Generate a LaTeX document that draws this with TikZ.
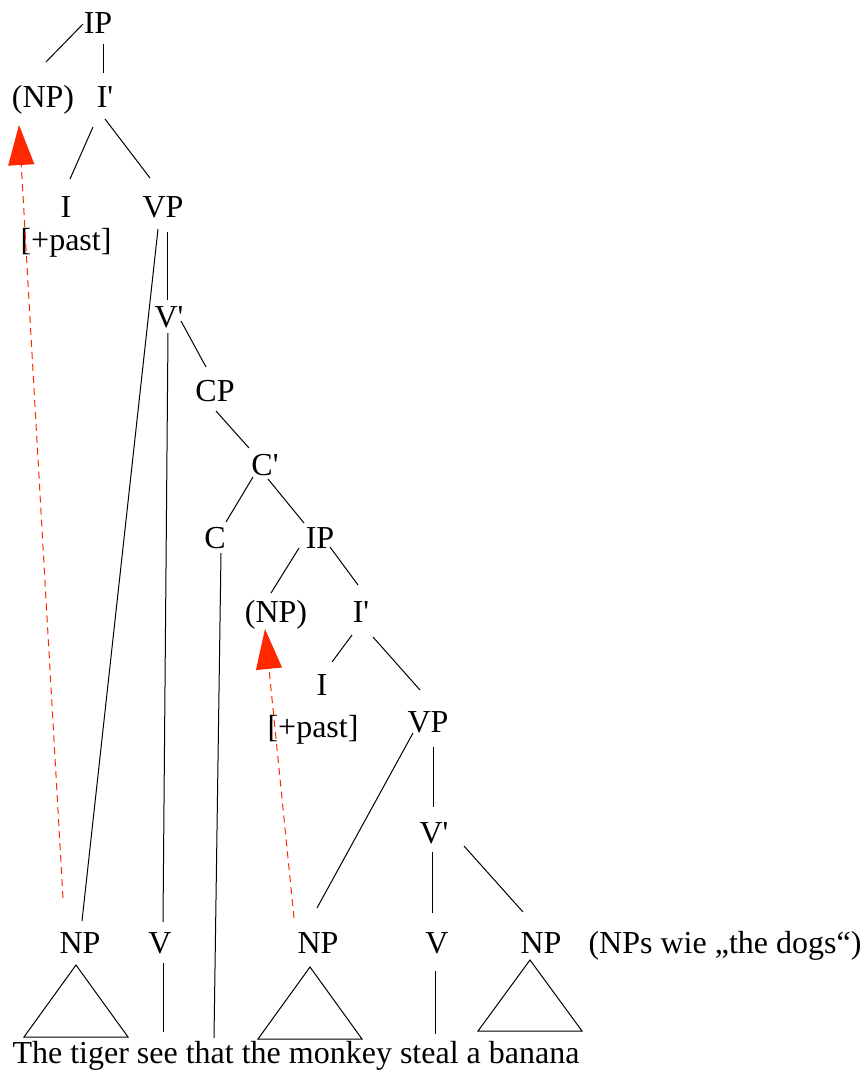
\documentclass[tikz,border=0pt]{standalone}
\usepackage{fontspec}
\setmainfont{Liberation Serif}
\usetikzlibrary{calc,arrows.meta}
\definecolor{movered}{RGB}{255,40,0}
\begin{document}
\begin{tikzpicture}[x=1pt,y=-1pt,
  lbl/.style={anchor=base,inner sep=0pt,font=\fontsize{32}{38}\selectfont},
  br/.style={line width=1pt,black},
  tri/.style={line width=1pt,black,line join=miter},
  movearrow/.style={movered,line width=1pt,dash pattern=on 7pt off 5pt,
    -{Triangle[length=40pt,width=26pt,fill=movered]}}]
\useasboundingbox (0,0) rectangle (867,1071);

% upper tree
\node[lbl] (IPa)   at (98,33)   {IP};
\node[lbl] (NPa)   at (43,107)  {(NP)};
\node[lbl] (Ibara) at (105,107) {I\textquotesingle};
\node[lbl] (Ia)    at (66,217)  {I};
\node[lbl] (pasta) at (66,250)  {[+past]};
\node[lbl] (VPa)   at (163,217) {VP};
\node[lbl] (Vbara) at (169,327) {V\textquotesingle};
\node[lbl] (CP)    at (215,401) {CP};
\node[lbl] (Cbar)  at (265,475) {C\textquotesingle};
\node[lbl] (C)     at (215,548) {C};
\node[lbl] (IPb)   at (320,548) {IP};
\node[lbl] (NPb)   at (276,622) {(NP)};
\node[lbl] (Ibarb) at (361,622) {I\textquotesingle};
\node[lbl] (Ib)    at (322,695) {I};
\node[lbl] (pastb) at (313,737) {[+past]};
\node[lbl] (VPb)   at (428,732) {VP};
\node[lbl] (Vbarb) at (434,843) {V\textquotesingle};
% bottom row
\node[lbl] (NP1) at (80,953)  {NP};
\node[lbl] (V1)  at (160,953) {V};
\node[lbl] (NP2) at (318,953) {NP};
\node[lbl] (V2)  at (437,953) {V};
\node[lbl] (NP3) at (541,953) {NP};
\node[lbl] (note) at (725,953) {(NPs wie „the dogs“)};
\node[lbl] (sent) at (296,1063) {The tiger see that the monkey steal a banana};

% branches
\draw[br] ($(IPa.base)+(-15,-9)$)   -- ($(NPa.base)+(3,-45)$);
\draw[br] ($(IPa.base)+(5,11)$)     -- ($(Ibara.base)+(-2,-34)$);
\draw[br] ($(Ibara.base)+(-12,20)$) -- ($(Ia.base)+(4,-38)$);
\draw[br] ($(Ibara.base)+(0,12)$)   -- ($(VPa.base)+(-13,-39)$);
\draw[br] ($(VPa.base)+(-5,12)$)    -- ($(NP1.base)+(2,-32)$);
\draw[br] ($(VPa.base)+(4,15)$)     -- ($(Vbara.base)+(-2,-27)$);
\draw[br] ($(Vbara.base)+(-1,6)$)   -- ($(V1.base)+(3,-31)$);
\draw[br] ($(Vbara.base)+(12,-6)$)  -- ($(CP.base)+(-9,-34)$);
\draw[br] ($(CP.base)+(1,10)$)      -- ($(Cbar.base)+(-16,-27)$);
\draw[br] ($(Cbar.base)+(-12,2)$)   -- ($(C.base)+(11,-26)$);
\draw[br] ($(Cbar.base)+(3,4)$)     -- ($(IPb.base)+(-16,-25)$);
\draw[br] ($(C.base)+(6,5)$)        -- ($(sent.base)+(-82,-25)$);
\draw[br] ($(IPb.base)+(-21,0)$)    -- ($(NPb.base)+(-5,-29)$);
\draw[br] ($(IPb.base)+(10,-1)$)    -- ($(Ibarb.base)+(-3,-37)$);
\draw[br] ($(Ibarb.base)+(-9,13)$)  -- ($(Ib.base)+(10,-33)$);
\draw[br] ($(Ibarb.base)+(12,15)$)  -- ($(VPb.base)+(-8,-42)$);
\draw[br] ($(VPb.base)+(-15,1)$)    -- ($(NP2.base)+(-1,-45)$);
\draw[br] ($(VPb.base)+(5,15)$)     -- ($(Vbarb.base)+(-1,-36)$);
\draw[br] ($(Vbarb.base)+(-2,9)$)   -- ($(V2.base)+(-5,-40)$);
\draw[br] ($(Vbarb.base)+(30,3)$)   -- ($(NP3.base)+(-18,-41)$);
\draw[br] ($(V1.base)+(3,10)$)      -- ($(sent.base)+(-133,-31)$);
\draw[br] ($(V2.base)+(-2,18)$)     -- ($(sent.base)+(139,-29)$);

% triangles
\draw[tri] ($(NP1.base)+(-4,12)$) -- ($(NP1.base)+(-56,84)$) -- ($(NP1.base)+(48,84)$) -- cycle;
\draw[tri] ($(NP2.base)+(-8,14)$) -- ($(NP2.base)+(-60,86)$) -- ($(NP2.base)+(44,86)$) -- cycle;
\draw[tri] ($(NP3.base)+(-11,7)$) -- ($(NP3.base)+(-63,78)$) -- ($(NP3.base)+(41,78)$) -- cycle;

% movement arrows
\draw[movearrow] ($(NP1.base)+(-17,-55)$) -- ($(NPa.base)+(-24,18)$);
\draw[movearrow] ($(NP2.base)+(-24,-35)$) -- ($(NPb.base)+(-11,7)$);
\end{tikzpicture}
\end{document}
